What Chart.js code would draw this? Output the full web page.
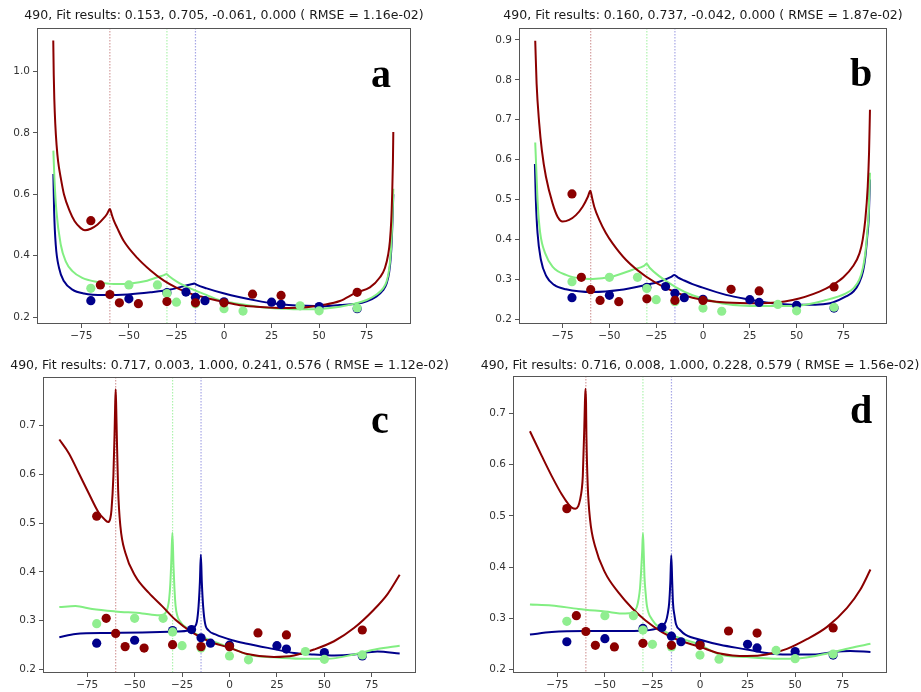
<!DOCTYPE html>
<html>
<head>
<meta charset="utf-8">
<script src="https://cdn.jsdelivr.net/npm/chart.js@4.4.1/dist/chart.umd.min.js"></script>
<style>
  html, body { margin: 0; padding: 0; background: #fff; }
  #wrap { position: relative; width: 921px; height: 692px; overflow: hidden; background: #fff; }
  .panel { position: absolute; }
</style>
</head>
<body>
<div id="wrap">
  <div class="panel" style="left:0;top:0;width:460px;height:346px"><canvas id="chartA"></canvas></div>
  <div class="panel" style="left:460px;top:0;width:461px;height:346px"><canvas id="chartB"></canvas></div>
  <div class="panel" style="left:0;top:346px;width:460px;height:346px"><canvas id="chartC"></canvas></div>
  <div class="panel" style="left:460px;top:346px;width:461px;height:346px"><canvas id="chartD"></canvas></div>
</div>
<script>
// ============================================
// Fit results 490 - four panels (a, b, c, d)
// ============================================

// Measured points (same in every panel)
const obsRedX   = [-70, -65, -60, -55, -45, -30, -15, 0, 15, 30, 70];
const obsRedY   = [0.514, 0.305, 0.274, 0.247, 0.244, 0.251, 0.247, 0.247, 0.275, 0.271, 0.281];
const obsGreenX = [-70, -50, -35, -30, -25, -15, 0, 10, 40, 50, 70];
const obsGreenY = [0.294, 0.305, 0.305, 0.277, 0.249, 0.244, 0.228, 0.220, 0.237, 0.221, 0.230];
const obsBlueX  = [-70, -50, -30, -20, -15, -10, 0, 25, 30, 50, 70];
const obsBlueY  = [0.254, 0.260, 0.280, 0.282, 0.265, 0.254, 0.250, 0.249, 0.242, 0.235, 0.228];

// Peak angles (dotted vertical lines)
const peakAngles = [-60, -30, -15];

// Panel a - fitted curves
const aRedX = [-89.75, -89.5, -89.2, -88.7, -88.0, -87.2, -85.8, -84.1, -81.1, -78.5, -75.3, -73.1, -70, -66.6, -63.1, -61.5, -60, -59, -58, -56.1, -52.6, -45.6, -38.6, -31.6, -24.6, -17.6, -10.7, -0.2, 8.4, 17, 25.9, 34, 43.4, 52, 60.9, 69.7, 76.7, 82.0, 84.6, 86.3, 87.2, 87.9, 88.4, 88.8, 89.0];
const aRedY = [1.10, 0.99, 0.91, 0.83, 0.76, 0.707, 0.653, 0.599, 0.545, 0.512, 0.490, 0.483, 0.488, 0.501, 0.523, 0.536, 0.552, 0.534, 0.516, 0.490, 0.447, 0.393, 0.352, 0.319, 0.295, 0.277, 0.265, 0.250, 0.239, 0.234, 0.231, 0.230, 0.2325, 0.240, 0.253, 0.281, 0.297, 0.330, 0.360, 0.404, 0.447, 0.512, 0.599, 0.707, 0.803];
const aGreenX = [-89.7, -89.15, -88.1, -85.8, -83.2, -79.7, -74.5, -66.6, -57.9, -49.1, -40.4, -35.1, -31.2, -30.2, -29, -24.6, -17.5, -9, -4, 0, 8.4, 17, 25.9, 34, 43.4, 52, 60.9, 69.7, 75, 80.2, 83.5, 85.5, 86.8, 87.6, 88.2, 88.6, 89.0];
const aGreenY = [0.742, 0.653, 0.545, 0.436, 0.382, 0.350, 0.328, 0.315, 0.308, 0.310, 0.319, 0.330, 0.338, 0.341, 0.334, 0.315, 0.293, 0.272, 0.259, 0.252, 0.243, 0.235, 0.229, 0.227, 0.226, 0.228, 0.234, 0.246, 0.256, 0.274, 0.293, 0.317, 0.355, 0.404, 0.47, 0.534, 0.618];
const aBlueX = [-89.7, -89.3, -88.45, -86.7, -84.1, -79.7, -73.6, -63.1, -50.6, -38.6, -28.1, -19.4, -16.5, -15.6, -14.5, -9.1, -0.3, 8.4, 17.1, 25.9, 34, 43.4, 52, 60.9, 69.6, 75, 80.2, 83.5, 85.5, 86.8, 87.6, 88.2, 88.6, 89.0];
const aBlueY = [0.666, 0.545, 0.436, 0.360, 0.317, 0.290, 0.277, 0.272, 0.274, 0.281, 0.290, 0.304, 0.308, 0.310, 0.306, 0.294, 0.278, 0.265, 0.254, 0.245, 0.240, 0.237, 0.236, 0.240, 0.244, 0.252, 0.268, 0.287, 0.31, 0.345, 0.39, 0.45, 0.52, 0.60];

// Panel b - fitted curves
const bRedX = [-89.63, -88.9, -87.5, -86.1, -83.9, -80.4, -77.7, -75.0, -71.5, -67.9, -64.3, -61.5, -60.2, -59.2, -58.1, -55.4, -51.9, -48.3, -41.2, -30.5, -19.8, -5.6, 12.3, 30.1, 47.9, 62.2, 69.3, 75, 80.0, 83.6, 85.3, 86.7, 88.0, 88.7, 89.2];
const bRedY = [0.898, 0.791, 0.691, 0.624, 0.557, 0.491, 0.457, 0.445, 0.449, 0.461, 0.482, 0.507, 0.522, 0.503, 0.482, 0.449, 0.416, 0.390, 0.349, 0.307, 0.278, 0.254, 0.242, 0.240, 0.248, 0.269, 0.286, 0.305, 0.332, 0.365, 0.399, 0.449, 0.532, 0.616, 0.725];
const bGreenX = [-89.63, -88.9, -88.2, -86.96, -84.3, -80.4, -73.2, -65, -59, -48.3, -37.6, -31.5, -30.1, -28.5, -23.4, -14.4, -5.6, 0, 12.3, 30.1, 47.9, 65.7, 76.4, 80.5, 83.5, 85.5, 86.7, 87.8, 88.5, 89.2];
const bGreenY = [0.643, 0.557, 0.482, 0.416, 0.365, 0.332, 0.311, 0.302, 0.301, 0.307, 0.324, 0.334, 0.339, 0.329, 0.308, 0.280, 0.260, 0.252, 0.238, 0.233, 0.233, 0.248, 0.265, 0.278, 0.299, 0.33, 0.365, 0.42, 0.466, 0.567];
const bBlueX = [-89.8, -89.3, -88.4, -86.6, -83.6, -79.5, -73.2, -59, -44.7, -30.5, -23.4, -17, -15.3, -13.5, -10, -5.6, -2, 12.3, 25, 33.7, 51.5, 62, 69.3, 76.4, 80.5, 83.5, 85.5, 86.7, 87.8, 88.5, 89.2];
const bBlueY = [0.589, 0.499, 0.416, 0.349, 0.307, 0.286, 0.275, 0.268, 0.273, 0.286, 0.294, 0.306, 0.311, 0.305, 0.297, 0.288, 0.282, 0.261, 0.249, 0.242, 0.236, 0.237, 0.242, 0.257, 0.270, 0.292, 0.32, 0.355, 0.41, 0.45, 0.55];

// Panel c - fitted curves
const cRedX = [-89.7, -84.7, -79.4, -74.2, -68.9, -66, -64, -62.8, -62.2, -61.2, -60.6, -60.3, -60, -59.7, -59.4, -58.7, -57.5, -54.9, -49.6, -42.5, -35.5, -28.5, -19.7, -10.9, -0.3, 9.3, 23.4, 34, 44.5, 55.1, 65.6, 76.2, 83.2, 89.7];
const cRedY = [0.671, 0.643, 0.602, 0.561, 0.521, 0.508, 0.502, 0.510, 0.527, 0.596, 0.68, 0.735, 0.774, 0.735, 0.68, 0.568, 0.493, 0.439, 0.391, 0.357, 0.330, 0.302, 0.276, 0.258, 0.245, 0.232, 0.226, 0.229, 0.241, 0.258, 0.285, 0.323, 0.354, 0.394];
const cGreenX = [-89.7, -81.2, -72.4, -60.1, -46, -37.2, -34.5, -32.5, -31.8, -31.2, -30.7, -30.1, -29.5, -29, -28.4, -27.5, -26.7, -21.4, -10.9, 0, 9.3, 23.4, 37.5, 51.5, 65.6, 77.9, 89.7];
const cGreenY = [0.328, 0.330, 0.324, 0.319, 0.315, 0.311, 0.313, 0.328, 0.345, 0.375, 0.42, 0.48, 0.41, 0.365, 0.33, 0.31, 0.302, 0.282, 0.261, 0.246, 0.231, 0.225, 0.222, 0.222, 0.231, 0.242, 0.249];
const cBlueX = [-89.7, -81.2, -63.6, -46, -28.5, -21.4, -18.5, -17.2, -16.3, -15.6, -15.1, -14.6, -13.9, -12.9, -11, -7.4, 1.4, 9.3, 23.4, 34, 44.5, 55.1, 65.6, 77.9, 89.7];
const cBlueY = [0.266, 0.273, 0.275, 0.276, 0.278, 0.280, 0.287, 0.298, 0.33, 0.38, 0.435, 0.38, 0.33, 0.295, 0.28, 0.272, 0.26, 0.253, 0.242, 0.234, 0.231, 0.229, 0.231, 0.237, 0.233];

// Panel d - fitted curves
const dRedX = [-89.4, -83.2, -78, -72.7, -69, -67.4, -65.5, -64, -63, -62.2, -61.6, -60.8, -60.5, -60.2, -59.9, -59.7, -59, -57.8, -55.2, -49.9, -42.8, -35.8, -28.8, -20, -11.2, -0.7, 10.5, 24.6, 35.1, 45.7, 56.2, 66.8, 77.3, 84.3, 89.6];
const dRedY = [0.665, 0.617, 0.578, 0.542, 0.522, 0.516, 0.514, 0.519, 0.532, 0.55, 0.578, 0.675, 0.72, 0.748, 0.72, 0.656, 0.558, 0.493, 0.441, 0.389, 0.350, 0.320, 0.296, 0.273, 0.257, 0.245, 0.231, 0.226, 0.229, 0.240, 0.259, 0.283, 0.320, 0.356, 0.395];
const dGreenX = [-89.4, -78, -63.9, -49.9, -39.4, -35, -33.2, -32.3, -31.5, -30.9, -30.4, -30, -29.6, -29.2, -28.6, -27.9, -25.3, -20, -11.2, -0.7, 10.5, 24.6, 38.6, 52.7, 66.8, 79, 89.6];
const dGreenY = [0.327, 0.325, 0.318, 0.313, 0.309, 0.312, 0.322, 0.337, 0.36, 0.395, 0.43, 0.466, 0.43, 0.382, 0.35, 0.324, 0.298, 0.278, 0.262, 0.249, 0.229, 0.224, 0.221, 0.222, 0.231, 0.242, 0.250];
const dBlueX = [-89.4, -78, -60.4, -42.8, -28.8, -21.8, -19, -17.9, -16.9, -16.2, -15.6, -15.1, -14.6, -14.2, -13.4, -12.6, -10.5, -7.7, 1.1, 10.5, 24.6, 35.1, 45.7, 59.7, 70.2, 79, 89.6];
const dBlueY = [0.268, 0.273, 0.275, 0.275, 0.276, 0.281, 0.288, 0.294, 0.31, 0.33, 0.37, 0.423, 0.37, 0.33, 0.305, 0.288, 0.277, 0.268, 0.257, 0.248, 0.239, 0.232, 0.229, 0.229, 0.234, 0.236, 0.234];

// Ticks and titles
const xTicks = [-75, -50, -25, 0, 25, 50, 75];
const yTicksA = [0.2, 0.4, 0.6, 0.8, 1.0];
const yTicksB = [0.2, 0.3, 0.4, 0.5, 0.6, 0.7, 0.8, 0.9];
const yTicksCD = [0.2, 0.3, 0.4, 0.5, 0.6, 0.7];
const titleA = '490, Fit results: 0.153, 0.705, -0.061, 0.000 ( RMSE = 1.16e-02)';
const titleB = '490, Fit results: 0.160, 0.737, -0.042, 0.000 ( RMSE = 1.87e-02)';
const titleC = '490, Fit results: 0.717, 0.003, 1.000, 0.241, 0.576 ( RMSE = 1.12e-02)';
const titleD = '490, Fit results: 0.716, 0.008, 1.000, 0.228, 0.579 ( RMSE = 1.56e-02)';

const RED = '#8B0000';
const GREEN = '#90EE90';
const GREEN_LINE = '#82EE82';
const BLUE = '#00008B';
const peakColors = ['rgba(160,40,40,0.45)', 'rgba(120,235,120,0.6)', 'rgba(60,60,200,0.45)'];
const AXIS_COLOR = '#555';
const TEXT_COLOR = '#333';

// Layout of each panel (canvas pixels)
const panels = [
    { id: 'chartA', title: titleA, letter: 'a', yMin: 0.178, yMax: 1.141, yTicks: yTicksA,
      curves: [[aRedX, aRedY], [aGreenX, aGreenY], [aBlueX, aBlueY]],
      box: { left: 37, top: 28, right: 411, bottom: 324, w: 460, h: 346 },
      titleY: 16, letterX: 371, letterY: 87 },
    { id: 'chartB', title: titleB, letter: 'b', yMin: 0.188, yMax: 0.930, yTicks: yTicksB,
      curves: [[bRedX, bRedY], [bGreenX, bGreenY], [bBlueX, bBlueY]],
      box: { left: 59, top: 28, right: 427, bottom: 324, w: 461, h: 346 },
      titleY: 16, letterX: 390, letterY: 86 },
    { id: 'chartC', title: titleC, letter: 'c', yMin: 0.193, yMax: 0.799, yTicks: yTicksCD,
      curves: [[cRedX, cRedY], [cGreenX, cGreenY], [cBlueX, cBlueY]],
      box: { left: 43, top: 31, right: 416, bottom: 327, w: 460, h: 346 },
      titleY: 19.5, letterX: 371, letterY: 87 },
    { id: 'chartD', title: titleD, letter: 'd', yMin: 0.193, yMax: 0.773, yTicks: yTicksCD,
      curves: [[dRedX, dRedY], [dGreenX, dGreenY], [dBlueX, dBlueY]],
      box: { left: 53, top: 30, right: 427, bottom: 327, w: 461, h: 346 },
      titleY: 19.5, letterX: 390, letterY: 77 }
];

const X_MIN = -98.3;
const X_MAX = 98.3;
const X_AXIS_H = 18;

function toPoints(xs, ys) {
    return xs.map((x, i) => ({ x: x, y: ys[i] }));
}

function fmtTick(v, digits) {
    return v.toFixed(digits).replace('-', '\u2212');
}

// Dotted peak lines, frame, title and panel letter
const panelDecor = {
    id: 'panelDecor',
    beforeDatasetsDraw(chart) {
        const { ctx, chartArea, scales } = chart;
        ctx.save();
        ctx.lineWidth = 1.2;
        ctx.setLineDash([1.5, 1.5]);
        peakAngles.forEach((a, i) => {
            const x = scales.x.getPixelForValue(a);
            ctx.strokeStyle = peakColors[i];
            ctx.beginPath();
            ctx.moveTo(x, chartArea.top);
            ctx.lineTo(x, chartArea.bottom);
            ctx.stroke();
        });
        ctx.restore();
    },
    afterDatasetsDraw(chart, args, opts) {
        const { ctx, chartArea } = chart;
        ctx.save();
        ctx.strokeStyle = AXIS_COLOR;
        ctx.lineWidth = 1;
        ctx.strokeRect(Math.round(chartArea.left) + 0.5, Math.round(chartArea.top) + 0.5,
            Math.round(chartArea.right - chartArea.left) - 1, Math.round(chartArea.bottom - chartArea.top) - 1);

        ctx.fillStyle = '#1a1a1a';
        ctx.font = '12.5px "DejaVu Sans"';
        ctx.textAlign = 'center';
        ctx.textBaseline = 'middle';
        ctx.fillText(opts.title, (chartArea.left + chartArea.right) / 2, opts.titleY);

        ctx.fillStyle = '#000';
        ctx.font = 'bold 40px "Liberation Serif"';
        ctx.textAlign = 'left';
        ctx.textBaseline = 'alphabetic';
        ctx.fillText(opts.letter, opts.letterX, opts.letterY);
        ctx.restore();
    }
};

function buildPanel(p) {
    const pointColors = [RED, GREEN, BLUE];
    const lineColors = [RED, GREEN_LINE, BLUE];
    const obs = [[obsRedX, obsRedY], [obsGreenX, obsGreenY], [obsBlueX, obsBlueY]];
    const datasets = [];

    // Points on top (lower order = drawn later)
    obs.forEach((o, i) => {
        datasets.push({
            data: toPoints(o[0], o[1]),
            showLine: false,
            pointRadius: 4.6,
            pointBorderWidth: 0,
            pointBackgroundColor: pointColors[i],
            order: 1 + i
        });
    });

    p.curves.forEach((c, i) => {
        datasets.push({
            data: toPoints(c[0], c[1]),
            showLine: true,
            pointRadius: 0,
            borderColor: lineColors[i],
            borderWidth: 2,
            cubicInterpolationMode: 'monotone',
            fill: false,
            order: 4 + i
        });
    });

    const b = p.box;
    return new Chart(document.getElementById(p.id), {
        type: 'scatter',
        data: { datasets: datasets },
        options: {
            responsive: true,
            maintainAspectRatio: false,
            animation: false,
            events: [],
            layout: {
                padding: { left: 0, top: b.top, right: b.w - b.right, bottom: b.h - b.bottom - X_AXIS_H }
            },
            plugins: {
                legend: { display: false },
                tooltip: { enabled: false },
                title: { display: false },
                panelDecor: { title: p.title, titleY: p.titleY, letter: p.letter, letterX: p.letterX, letterY: p.letterY }
            },
            scales: {
                x: {
                    type: 'linear',
                    min: X_MIN,
                    max: X_MAX,
                    afterBuildTicks: (axis) => { axis.ticks = xTicks.map(v => ({ value: v })); },
                    afterFit: (axis) => { axis.height = X_AXIS_H; },
                    border: { display: false },
                    grid: { drawOnChartArea: false, drawTicks: true, tickLength: 4, color: AXIS_COLOR },
                    ticks: {
                        color: TEXT_COLOR, padding: 2, maxRotation: 0,
                        font: { family: 'DejaVu Sans', size: 10.5 },
                        callback: (v) => fmtTick(v, 0)
                    }
                },
                y: {
                    type: 'linear',
                    min: p.yMin,
                    max: p.yMax,
                    afterBuildTicks: (axis) => { axis.ticks = p.yTicks.map(v => ({ value: v })); },
                    afterFit: (axis) => { axis.width = b.left; },
                    border: { display: false },
                    grid: { drawOnChartArea: false, drawTicks: true, tickLength: 4, color: AXIS_COLOR },
                    ticks: {
                        color: TEXT_COLOR, padding: 3,
                        font: { family: 'DejaVu Sans', size: 10.5 },
                        callback: (v) => fmtTick(v, 1)
                    }
                }
            }
        },
        plugins: [panelDecor]
    });
}

panels.forEach(buildPanel);
</script>
</body>
</html>
